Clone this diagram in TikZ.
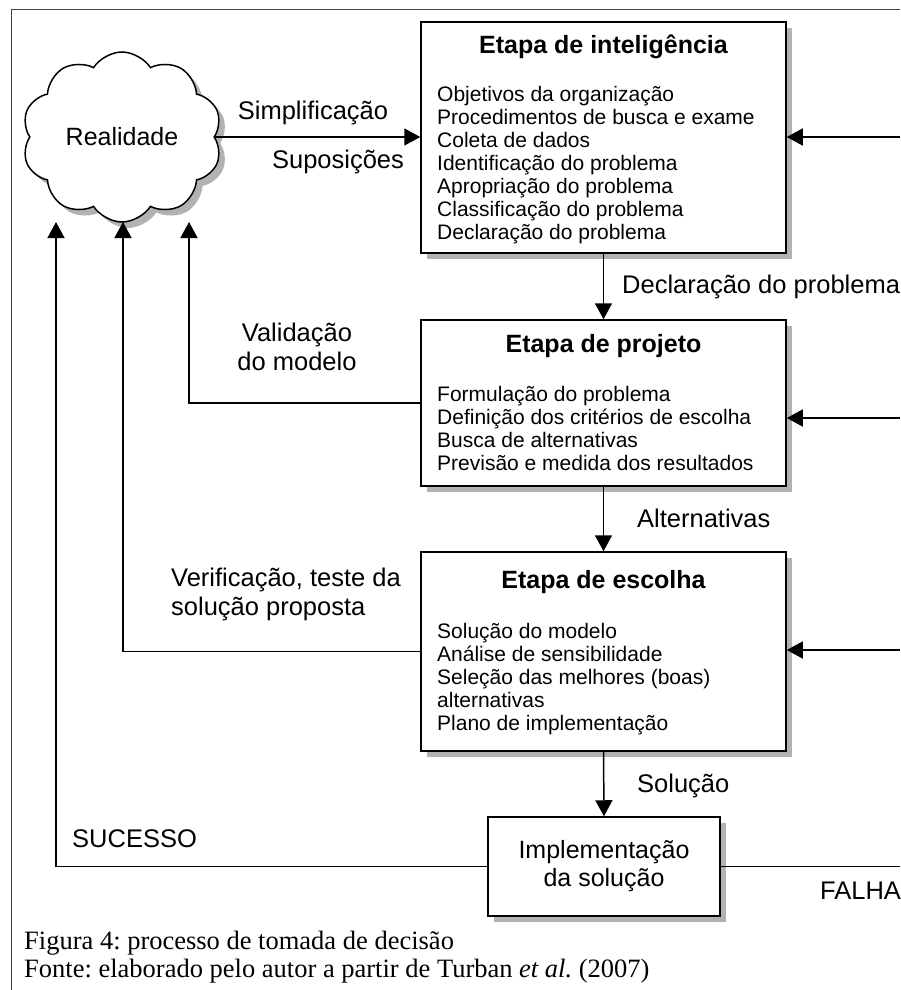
\documentclass[tikz,border=0pt]{standalone}
\usepackage{fontspec}
\setmainfont{Liberation Sans}
\newfontfamily\legenda{Liberation Serif}
\usetikzlibrary{arrows.meta,shapes.symbols,shadows}
\frenchspacing

\tikzset{
  linha/.style={line width=1.5pt},
  seta/.style={linha, -{Triangle[width=17pt,length=16pt]}},
  moldura/.style={line width=1pt, black!75},
  sombra/.style={drop shadow={shadow xshift=6pt, shadow yshift=-6pt, fill=black!30, opacity=1}},
  etapa/.style={draw, linha, fill=white, sombra, inner sep=0pt},
  nuvem/.style={draw, linha, fill=white, sombra, cloud, cloud puffs=10, cloud puff arc=115, aspect=1.2,
    minimum width=200pt, minimum height=170pt, inner sep=0pt, font=\fontsize{25}{29}\selectfont},
  titulo/.style={anchor=base, inner sep=0pt, font=\fontsize{25}{29}\selectfont\bfseries},
  item/.style={anchor=base west, inner sep=0pt, font=\fontsize{21}{23}\selectfont},
  rotulo/.style={inner sep=0pt, font=\fontsize{25.5}{29}\selectfont},
  fonte/.style={anchor=base west, inner sep=0pt, font=\legenda\fontsize{26.5}{30}\selectfont}
}

\begin{document}
\begin{tikzpicture}[x=1pt, y=-1pt]
  \useasboundingbox (0,0) rectangle (900,990);
  \draw[moldura] (11,990) -- (11,10) -- (900,10);

  \node[nuvem] (real) at (122,137) {Realidade};

  \node[etapa, minimum width=365pt, minimum height=231pt] (intel) at (603.5,137.5) {};
  \node[titulo] (tintel) at (603.5,53) {Etapa de inteligência};
  \foreach \t [count=\k] in {Objetivos da organização, Procedimentos de busca e exame,
      Coleta de dados, Identificação do problema, Apropriação do problema,
      Classificação do problema, Declaração do problema}
    \node[item] (intel-i\k) at (437,101+23*\k-23) {\t};

  \node[etapa, minimum width=365pt, minimum height=166pt] (proj) at (603.5,403) {};
  \node[titulo] (tproj) at (603.5,352) {Etapa de projeto};
  \foreach \t [count=\k] in {Formulação do problema, Definição dos critérios de escolha,
      Busca de alternativas, Previsão e medida dos resultados}
    \node[item] (proj-i\k) at (437,401+23*\k-23) {\t};

  \node[etapa, minimum width=365pt, minimum height=199pt] (escolha) at (603.5,651.5) {};
  \node[titulo] (tescolha) at (603.5,588) {Etapa de escolha};
  \foreach \t [count=\k] in {Solução do modelo, Análise de sensibilidade,
      Seleção das melhores (boas), alternativas, Plano de implementação}
    \node[item] (escolha-i\k) at (437,638+23*\k-23) {\t};

  \node[etapa, minimum width=232pt, minimum height=99pt, align=center,
    font=\fontsize{25}{28}\selectfont] (impl) at (604,866.5) {Implementação\\da solução};

  % setas principais
  \draw[seta] (real.east) -- (real.east -| intel.west);
  \draw[seta] (intel.south) -- (proj.north);
  \draw[seta] (proj.south) -- (escolha.north);
  \draw[seta] (escolha.south) -- (impl.north);

  \coordinate (dintel) at (900,137);
  \coordinate (dproj) at (900,418);
  \coordinate (descolha) at (900,650);
  \coordinate (falha) at (900,866.5);
  \draw[seta] (dintel) -- (dintel -| intel.east);
  \draw[seta] (dproj) -- (dproj -| proj.east);
  \draw[seta] (descolha) -- (descolha -| escolha.east);
  \draw[linha] (impl.east) -- (falha);

  % retornos para a realidade
  \coordinate (vproj) at (189,222);
  \coordinate (vescolha) at (123,222);
  \coordinate (vimpl) at (56,222);
  \draw[seta] (proj.west) -| (vproj);
  \draw[seta] (escolha.west) -| (vescolha);
  \draw[seta] (impl.west) -| (vimpl);

  \node[rotulo, anchor=base] (simp) at (313,119) {Simplificação};
  \node[rotulo, anchor=base] (sup) at (338,168) {Suposições};
  \node[rotulo, anchor=base west] (ldecl) at (622,293) {Declaração do problema};
  \node[rotulo, anchor=base west] (lalt) at (637,527) {Alternativas};
  \node[rotulo, anchor=base west] (lsol) at (637,792) {Solução};
  \node[rotulo, anchor=base, align=center] (lvalid) at (297,370) {Validação\\do modelo};
  \node[rotulo, anchor=base west, align=left] (lverif) at (171,615) {Verificação, teste da\\solução proposta};
  \node[rotulo, anchor=base west] (lsuc) at (72,847) {SUCESSO};
  \node[rotulo, anchor=base west] (lfal) at (820,899) {FALHA};

  \node[fonte] (fig) at (24,949) {Figura 4: processo de tomada de decisão};
  \node[fonte] (fon) at (24,977) {Fonte: elaborado pelo autor a partir de Turban \textit{et al.} (2007)};
\end{tikzpicture}
\end{document}
